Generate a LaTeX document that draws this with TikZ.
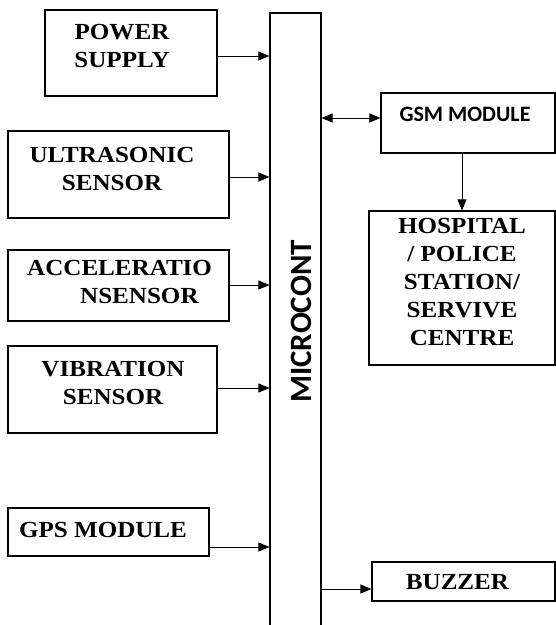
\documentclass[tikz,border=0pt]{standalone}
\usepackage{fontspec}
\newfontfamily\timesfont[FakeStretch=1.09]{Liberation Serif}
\newfontfamily\calfont{Carlito}
\usetikzlibrary{arrows.meta}

\begin{document}
\begin{tikzpicture}[x=1pt, y=-1pt,
  blk/.style={draw, line width=1.1pt, inner sep=0pt},
  lbl/.style={font=\timesfont\bfseries\fontsize{23}{28}\selectfont, align=center, inner sep=0pt},
  sanslbl/.style={font=\calfont\bfseries\fontsize{22}{26}\selectfont, inner sep=0pt},
  arr/.style={line width=0.9pt, -{Triangle[length=11pt,width=9pt]}},
  dblarr/.style={line width=0.9pt, {Triangle[length=11pt,width=9pt]}-{Triangle[length=11pt,width=9pt]}}]
\useasboundingbox (0,0) rectangle (556,625);
\clip (0,0) rectangle (556,625);
% input blocks on the left
\node[blk, minimum width=172pt, minimum height=86pt] (power) at (131,53) {};
\node[lbl] (powerlbl) at (122,46) {POWER\\SUPPLY};
\node[blk, minimum width=221pt, minimum height=87pt] (ultra) at (118.5,174.5) {};
\node[lbl] (ultralbl) at (112,168.5) {ULTRASONIC\\SENSOR};
\node[blk, minimum width=221pt, minimum height=71pt] (accel) at (118.5,285.5) {};
\node[lbl, align=left, anchor=west] (accellbl) at (27,281.5) {ACCELERATIO\\\hspace*{53pt}NSENSOR};
\node[blk, minimum width=209pt, minimum height=87pt] (vib) at (112.5,389.5) {};
\node[lbl] (viblbl) at (113,382.5) {VIBRATION\\SENSOR};
\node[blk, minimum width=201pt, minimum height=48pt] (gps) at (108.5,532) {};
\node[lbl] (gpslbl) at (103,529.5) {GPS MODULE};
% controller, open at the bottom
\node[blk, minimum width=51pt, minimum height=700pt] (mcu) at (295.5,363) {};
\node[font=\calfont\bfseries\fontsize{31}{31}\selectfont, rotate=90, inner sep=0pt] (mculbl) at (301,321.5) {MICROCONT};
% output blocks on the right
\node[blk, minimum width=174pt, minimum height=60pt] (gsm) at (468,123) {};
\node[sanslbl] (gsmlbl) at (465,114.5) {GSM MODULE};
\node[blk, minimum width=186pt, minimum height=154pt] (hosp) at (462,288) {};
\node[lbl] (hosplbl) at (462,281.5) {HOSPITAL\\/ POLICE\\STATION/\\SERVIVE\\CENTRE};
\node[blk, minimum width=183pt, minimum height=39pt] (buzz) at (463.5,581.5) {};
\node[lbl] (buzzlbl) at (457.5,582) {BUZZER};
% connections
\draw[arr] (power.east |- 0,56) -- (mcu.west |- 0,56);
\draw[arr] (ultra.east |- 0,177) -- (mcu.west |- 0,177);
\draw[arr] (accel.east |- 0,285) -- (mcu.west |- 0,285);
\draw[arr] (vib.east |- 0,388) -- (mcu.west |- 0,388);
\draw[arr] (gps.east |- 0,547) -- (mcu.west |- 0,547);
\draw[dblarr] (mcu.east |- 0,118) -- (gsm.west |- 0,118);
\draw[arr] (gsm.south -| hosp.north) -- (hosp.north);
\draw[arr] (mcu.east |- 0,589) -- (buzz.west |- 0,589);
\end{tikzpicture}
\end{document}
